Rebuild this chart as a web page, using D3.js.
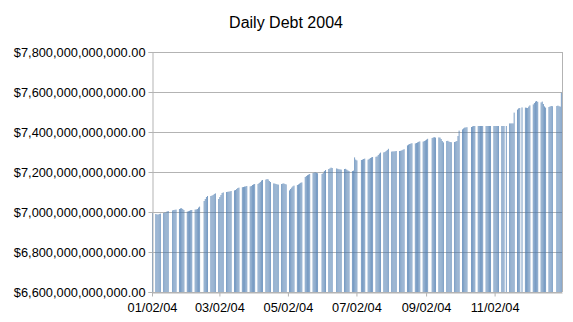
<!DOCTYPE html>
<html>
<head>
<meta charset="utf-8">
<script src="https://cdn.jsdelivr.net/npm/d3@7"></script>
<style>
  body { margin: 0; background: #fff; }
  svg { display: block; font-family: "Liberation Sans", Arial, sans-serif; }
</style>
</head>
<body>
<svg width="573" height="322"></svg>
<script>
// federal holidays (no debt report)
var holidays = ["2004-01-19", "2004-02-16", "2004-05-31", "2004-06-11", "2004-07-05",
    "2004-09-06", "2004-10-11", "2004-11-11", "2004-11-25", "2004-12-24"];

// total public debt, billions of dollars, one per business day
var debt = [
    6995,
    6990, 6988, 6987, 6990, 6992,
    6995, 6997, 6998, 7003, 7005,
    7008, 7010, 7011, 7012,
    7015, 7018, 7019, 7015, 7010,
    7002, 7004, 7006, 7009, 7010,
    7012, 7013, 7015, 7022, 7027,
    7055, 7065, 7075, 7080,
    7080, 7082, 7085, 7090, 7093,
    7065, 7075, 7085, 7095, 7098,
    7100, 7101, 7102, 7103, 7105,
    7108, 7110, 7115, 7120, 7122,
    7124, 7125, 7127, 7128, 7130,
    7128, 7130, 7135, 7138, 7140,
    7140, 7145, 7150, 7157, 7160,
    7162, 7165, 7163, 7155, 7150,
    7143, 7142, 7140, 7138, 7137,
    7140, 7142, 7143, 7140, 7138,
    7108, 7115, 7122, 7128, 7132,
    7135, 7138, 7142, 7146, 7148,
    7175, 7180, 7184, 7187, 7190,
    7195, 7197, 7198, 7196, 7194,
    7190, 7195, 7205, 7210,
    7215, 7218, 7222, 7220,
    7218, 7216, 7214, 7213, 7212,
    7215, 7216, 7212, 7208, 7205,
    7205, 7207, 7273, 7262, 7258,
    7260, 7262, 7265, 7267,
    7262, 7266, 7270, 7273, 7275,
    7276, 7278, 7285, 7292, 7297,
    7298, 7300, 7305, 7310, 7316,
    7302, 7303, 7303, 7304, 7305,
    7305, 7306, 7308, 7311, 7314,
    7333, 7337, 7340, 7342, 7344,
    7343, 7345, 7348, 7351, 7353,
    7352, 7355, 7358, 7362, 7366,
    7370, 7373, 7374, 7372,
    7373, 7372, 7365, 7355, 7348,
    7355, 7356, 7352, 7350, 7349,
    7350, 7352, 7355, 7380, 7407,
    7413, 7418, 7422, 7423, 7424,
    7425, 7428, 7430, 7430,
    7430, 7430, 7430, 7430, 7430,
    7430, 7430, 7430, 7430, 7430,
    7430, 7430, 7430, 7430, 7430,
    7430, 7430, 7430, 7430,
    7443, 7443, 7443, 7443, 7497,
    7512, 7518, 7520, 7523,
    7522, 7521, 7520, 7527, 7533,
    7538, 7545, 7552, 7555, 7551,
    7548, 7552, 7540, 7528, 7522,
    7525, 7528, 7530, 7529,
    7530, 7532, 7529, 7527, 7596
];

var yTicks = [6600, 6800, 7000, 7200, 7400, 7600, 7800];
var xTicks = ["2004-01-02", "2004-03-02", "2004-05-02", "2004-07-02", "2004-09-02", "2004-11-02"];

var parse = d3.timeParse("%Y-%m-%d");
var fmtDay = d3.timeFormat("%Y-%m-%d");

// business days of 2004, starting Jan 2
var days = d3.timeDay.range(parse("2004-01-02"), parse("2005-01-01"))
    .filter(function(d){ return d.getDay() != 0 && d.getDay() != 6 && holidays.indexOf(fmtDay(d)) < 0; });

var data = days.map(function(d, i){ return {date: d, value: debt[i]}; })
    .filter(function(d){ return d.value != null; });

var svg = d3.select("svg"),
    margin = {top: 52, right: 11, bottom: 30, left: 152},
    width = +svg.attr("width") - margin.left - margin.right,
    height = +svg.attr("height") - margin.top - margin.bottom;

var x = d3.scaleTime()
    .domain([parse("2004-01-02"), parse("2005-01-01")])
    .range([0, width]);

var y = d3.scaleLinear()
    .domain([6600, 7800])
    .range([height, 0]);

var dayW = x(parse("2004-01-03")) - x(parse("2004-01-02"));
var money = d3.format("$,.2f");

svg.append("text")
    .attr("x", 286)
    .attr("y", 28)
    .attr("text-anchor", "middle")
    .style("font-size", "16px")
    .style("fill", "#000")
    .text("Daily Debt 2004");

var g = svg.append("g").attr("transform", "translate(" + margin.left + "," + margin.top + ")");

// gridlines
g.append("g")
    .selectAll("line")
    .data(yTicks)
    .enter().append("line")
    .attr("x1", 0).attr("x2", width)
    .attr("y1", function(d){ return Math.round(y(d)) + 0.5; })
    .attr("y2", function(d){ return Math.round(y(d)) + 0.5; })
    .attr("stroke", "#b3b3b3");

// bars
g.append("g")
    .selectAll("rect")
    .data(data)
    .enter().append("rect")
    .attr("x", function(d){ return x(d.date); })
    .attr("width", dayW * 0.8)
    .attr("y", function(d){ return y(d.value); })
    .attr("height", function(d){ return height - y(d.value); })
    .attr("fill", "#4a7aae")
    .attr("fill-opacity", 0.82);

// right border
g.append("line")
    .attr("x1", width + 0.5).attr("x2", width + 0.5)
    .attr("y1", 0).attr("y2", height)
    .attr("stroke", "#b3b3b3");

// y axis
var yAxis = g.append("g")
    .attr("transform", "translate(0.5,0)")
    .call(d3.axisLeft(y)
        .tickValues(yTicks)
        .tickSize(4)
        .tickPadding(3)
        .tickFormat(function(d){ return money(d * 1e9); }));

// x axis
var xAxis = g.append("g")
    .attr("transform", "translate(0," + (height + 0.5) + ")")
    .call(d3.axisBottom(x)
        .tickValues(xTicks.map(parse))
        .tickSize(4)
        .tickSizeOuter(0)
        .tickPadding(6)
        .tickFormat(d3.timeFormat("%m/%d/%y")));

[yAxis, xAxis].forEach(function(a){
    a.selectAll(".domain").attr("stroke", "#b3b3b3");
    a.selectAll(".tick line").attr("stroke", "#b3b3b3");
    a.selectAll("text")
        .style("font-family", "'Liberation Sans', Arial, sans-serif")
        .style("font-size", "12.8px")
        .style("fill", "#000");
});
</script>
</body>
</html>
